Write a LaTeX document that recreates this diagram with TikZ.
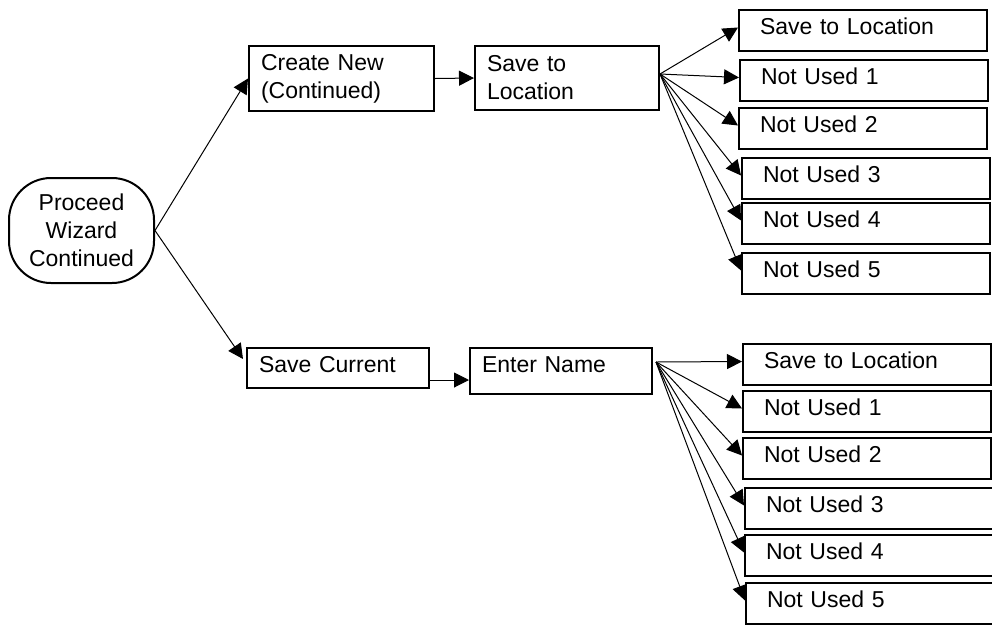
\documentclass[tikz,border=0pt]{standalone}
\usepackage{fontspec}
\setmainfont{Liberation Sans}
\usetikzlibrary{arrows.meta,positioning,calc}

\begin{document}
\begin{tikzpicture}[x=1pt,y=-1pt,
        base/.style={draw,line width=2pt,anchor=north west,font=\fontsize{23}{28}\selectfont},
        startbox/.style={base,rounded corners=42pt,align=center,minimum width=145pt,minimum height=105pt,inner sep=0pt},
        midbox/.style={base,align=left,inner xsep=12pt,text width=160pt},
        outbox/.style={base,align=left,inner xsep=21pt,text width=206pt,minimum height=41pt,text depth=8pt},
        arr/.style={line width=1pt,-{Triangle[length=15pt,width=15pt]}}]
        \useasboundingbox (0,0) rectangle (992,625);
        \node[startbox] (start) at (8,177) {Proceed\\Wizard\\Continued};
        \node[midbox,minimum height=65pt,text width=161pt] (create) at (248,45) {Create New\\(Continued)};
        \node[midbox,minimum height=64pt] (saveloc) at (474,45) {Save to\\Location};
        \node[midbox,minimum height=40pt,text width=158pt,text depth=7pt] (savecur) at (246,347) {Save Current};
        \node[midbox,minimum height=46pt,text width=158pt,text depth=12pt] (entername) at (469,347) {Enter Name};
        \foreach \nm/\x/\y/\txt in {a0/738/9/Save to Location,a1/739/59/Not Used 1,a2/738/107/Not Used 2,
                a3/741/157/Not Used 3,a4/741/202/Not Used 4,a5/741/252/Not Used 5}
            \node[outbox] (\nm) at (\x,\y) {\txt};
        \foreach \nm/\x/\y/\txt in {b0/742/343/Save to Location,b1/742/390/Not Used 1,b2/742/437/Not Used 2,
                b3/744/487/Not Used 3,b4/744/534/Not Used 4,b5/745/582/Not Used 5}
            \node[outbox] (\nm) at (\x,\y) {\txt};
        \coordinate (fanA) at (660,74);
        \coordinate (fanB) at (656,362);
        \draw[arr] (start.east) -- (create.west);
        \draw[arr] (start.east) -- ([xshift=-3pt,yshift=9pt]savecur.west);
        \draw[arr] (create.east) -- (saveloc.west);
        \draw[arr] ([yshift=-12pt]savecur.east) -- ([yshift=-9pt]entername.west);
        \foreach \i in {0,...,5} \draw[arr] (fanA) -- ([yshift=3pt]a\i.west);
        \foreach \i in {0,...,5} \draw[arr] (fanB) -- ([yshift=3pt]b\i.west);
    \end{tikzpicture}
\end{document}
